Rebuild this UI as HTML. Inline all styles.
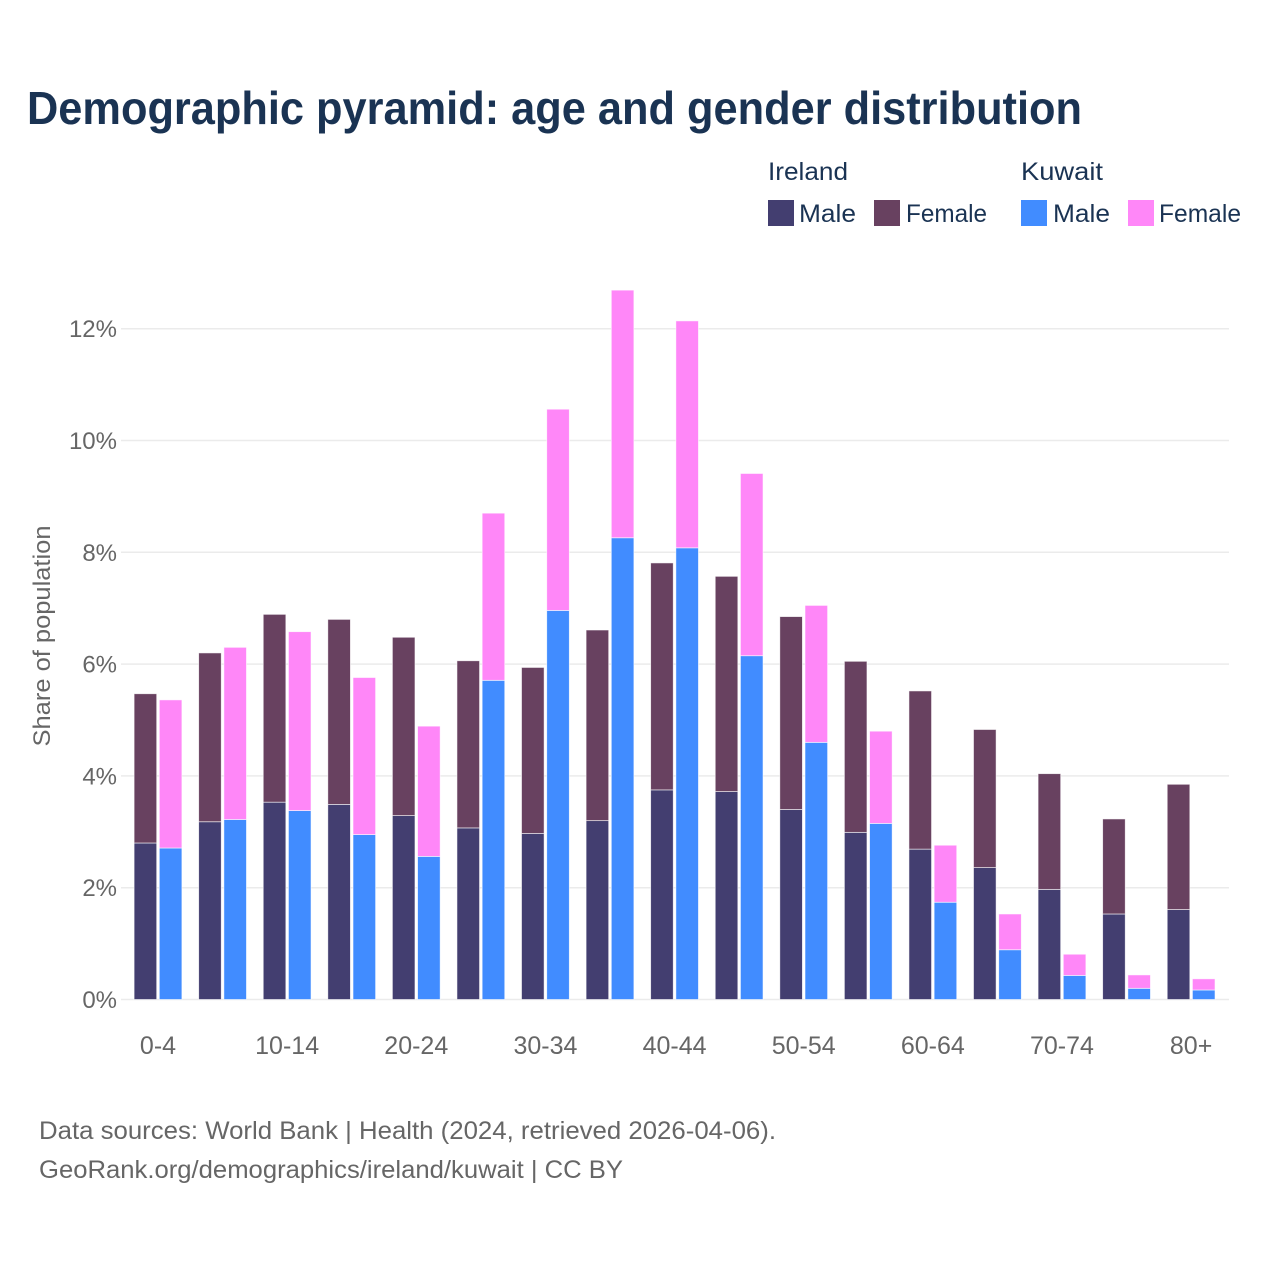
<!DOCTYPE html>
<html lang="en">
<head>
<meta charset="utf-8">
<title>Demographic pyramid</title>
<style>
html,body{margin:0;padding:0;background:#fff;}
svg{display:block;}
text{font-family:"Liberation Sans",sans-serif;}
</style>
</head>
<body>
<svg id="chart" xmlns="http://www.w3.org/2000/svg" width="1280" height="1280" viewBox="0 0 1280 1280">
  <rect width="1280" height="1280" fill="#ffffff"/>
  <text x="27" y="124" font-size="46" font-weight="700" fill="#1a3353" textLength="1055" lengthAdjust="spacingAndGlyphs">Demographic pyramid: age and gender distribution</text>

  <g font-size="25" fill="#1a3353">
    <text x="768" y="180" textLength="80" lengthAdjust="spacingAndGlyphs">Ireland</text>
    <text x="1021" y="180" textLength="82" lengthAdjust="spacingAndGlyphs">Kuwait</text>
    <rect x="768" y="200" width="26" height="26" fill="#433e70"/>
    <text x="799" y="222" textLength="57" lengthAdjust="spacingAndGlyphs">Male</text>
    <rect x="874" y="200" width="26" height="26" fill="#684160"/>
    <text x="906" y="222" textLength="81" lengthAdjust="spacingAndGlyphs">Female</text>
    <rect x="1021" y="200" width="26" height="26" fill="#418cff"/>
    <text x="1053" y="222" textLength="57" lengthAdjust="spacingAndGlyphs">Male</text>
    <rect x="1128" y="200" width="26" height="26" fill="#ff87f8"/>
    <text x="1159" y="222" textLength="82" lengthAdjust="spacingAndGlyphs">Female</text>
  </g>

  <g id="grid"></g>
  <g id="bars"></g>
  <g id="yticks"></g>
  <g id="xticks"></g>

  <text transform="translate(50,636) rotate(-90)" text-anchor="middle" font-size="24" fill="#666666" textLength="221" lengthAdjust="spacingAndGlyphs">Share of population</text>

  <text x="39" y="1139" font-size="25" fill="#666666" textLength="737" lengthAdjust="spacingAndGlyphs">Data sources: World Bank | Health (2024, retrieved 2026-04-06).</text>
  <text x="39" y="1178" font-size="25" fill="#666666" textLength="584" lengthAdjust="spacingAndGlyphs">GeoRank.org/demographics/ireland/kuwait | CC BY</text>
</svg>
<script>
const ageGroups = ["0-4","5-9","10-14","15-19","20-24","25-29","30-34","35-39","40-44","45-49","50-54","55-59","60-64","65-69","70-74","75-79","80+"];
const xTickLabels = ["0-4","10-14","20-24","30-34","40-44","50-54","60-64","70-74","80+"];
const yTickValues = [0,2,4,6,8,10,12];
const irelandMale = [2.80,3.18,3.53,3.49,3.29,3.07,2.97,3.20,3.75,3.72,3.40,2.99,2.69,2.36,1.97,1.53,1.61];
const irelandFemale = [2.67,3.02,3.36,3.31,3.19,2.99,2.97,3.41,4.06,3.85,3.45,3.06,2.83,2.47,2.07,1.70,2.24];
const kuwaitMale = [2.71,3.22,3.38,2.95,2.56,5.71,6.96,8.26,8.08,6.15,4.60,3.15,1.74,0.89,0.43,0.20,0.17];
const kuwaitFemale = [2.65,3.08,3.20,2.81,2.33,2.99,3.60,4.43,4.06,3.26,2.45,1.65,1.02,0.64,0.38,0.24,0.20];

const NS = "http://www.w3.org/2000/svg";
function yScale(v){ return 999.5 - 55.9 * v; }
function xScale(i){ return 158 + 64.57 * i; }
const barWidth = 22.6;
const barGap = 1.3;

function mk(tag, attrs, parent){
  const el = document.createElementNS(NS, tag);
  for (const k in attrs) el.setAttribute(k, attrs[k]);
  parent.appendChild(el);
  return el;
}

const gridG = document.getElementById("grid");
const yG = document.getElementById("yticks");
const xG = document.getElementById("xticks");
const barsG = document.getElementById("bars");

yTickValues.forEach(function(v){
  const line = mk("line", {x1:121, x2:1229, y1:yScale(v), y2:yScale(v), stroke: "#ebebeb", "stroke-width":1.5}, gridG);
  
  
  const t = mk("text", {x:117, y:yScale(v)+8.5, "text-anchor":"end", "font-size":24, fill:"#666666"}, yG);
  
  
  t.textContent = v + "%";
});

ageGroups.forEach(function(label, i){
  if (xTickLabels.indexOf(label) === -1) return;
  const t = mk("text", {x:xScale(i), y:1054, "text-anchor":"middle", "font-size":25, fill:"#666666"}, xG);
  
  
  t.textContent = label;
});

function drawSeries(values, base, offset, fill, name){
  values.forEach(function(v, i){
    const b = base ? base[i] : 0;
    const top = yScale(b + v);
    const bottom = yScale(b);
    const r = mk("rect", {
      x: xScale(i) + offset,
      y: top,
      width: barWidth,
      height: bottom - top,
      fill: fill,
      stroke: "#ffffff",
      "stroke-opacity": 0.7,
      "stroke-width": 0.8
    }, barsG);
    
    
  });
}

drawSeries(irelandMale, null, -barWidth - barGap, "#433e70", "ireland-male");
drawSeries(irelandFemale, irelandMale, -barWidth - barGap, "#684160", "ireland-female");
drawSeries(kuwaitMale, null, barGap, "#418cff", "kuwait-male");
drawSeries(kuwaitFemale, kuwaitMale, barGap, "#ff87f8", "kuwait-female");
</script>
</body>
</html>
